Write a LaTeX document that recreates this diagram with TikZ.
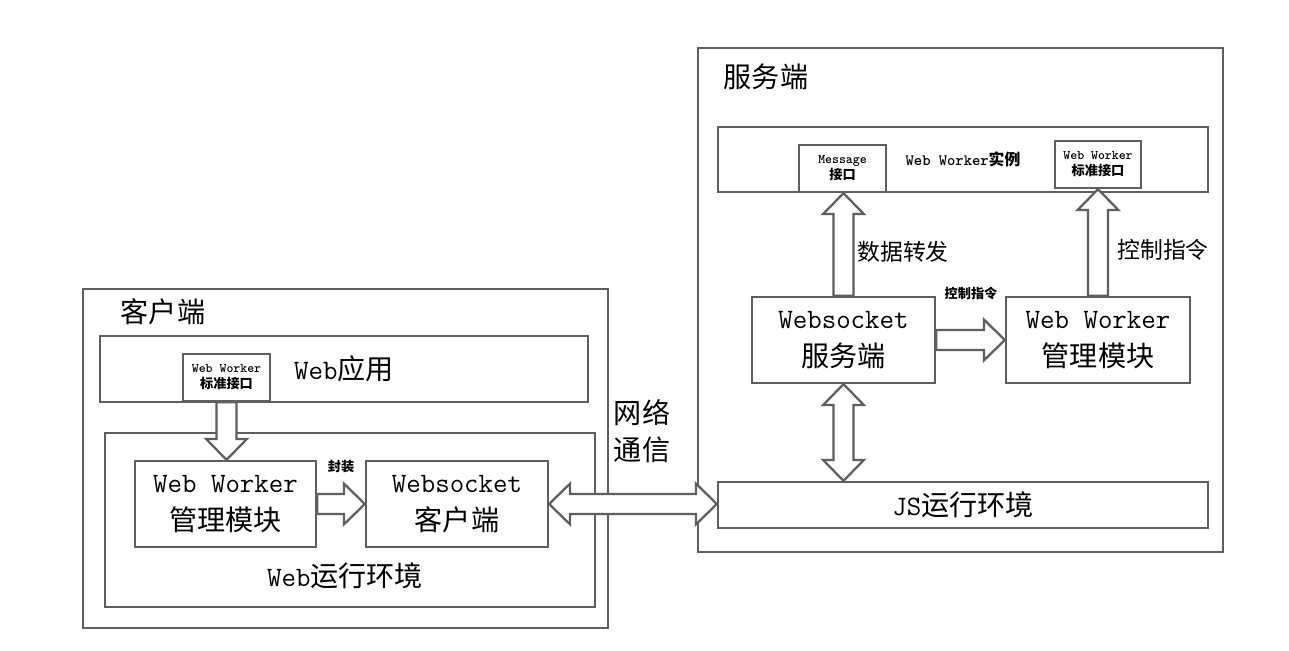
\documentclass[tikz,border=0pt]{standalone}
\usepackage{fontspec}
\newfontfamily\cjk{Noto Sans CJK SC}
\usetikzlibrary{positioning, calc, fit}
\definecolor{edgegray}{RGB}{95,95,95}

% hollow block arrow from #1 to #2
\newcommand{\fatarrow}[2]{%
  \coordinate (fa-b) at ($(#2)!11.9pt!(#1)$);
  \draw[arr] ($(#1)!5.7pt!90:(#2)$) -- ($(fa-b)!5.7pt!90:(#2)$) -- ($(fa-b)!11.6pt!90:(#2)$) -- (#2)
    -- ($(fa-b)!11.6pt!-90:(#2)$) -- ($(fa-b)!5.7pt!-90:(#2)$) -- ($(#1)!5.7pt!-90:(#2)$) -- cycle;}
% hollow block arrow with two heads
\newcommand{\dfatarrow}[2]{%
  \coordinate (fa-a) at ($(#1)!11.9pt!(#2)$);
  \coordinate (fa-b) at ($(#2)!11.9pt!(#1)$);
  \draw[arr] (#1) -- ($(fa-a)!11.6pt!90:(#2)$) -- ($(fa-a)!5.7pt!90:(#2)$) -- ($(fa-b)!5.7pt!90:(#2)$)
    -- ($(fa-b)!11.6pt!90:(#2)$) -- (#2) -- ($(fa-b)!11.6pt!-90:(#2)$) -- ($(fa-b)!5.7pt!-90:(#2)$)
    -- ($(fa-a)!5.7pt!-90:(#2)$) -- ($(fa-a)!11.6pt!-90:(#2)$) -- cycle;}

\begin{document}
\begin{tikzpicture}[x=0.02cm, y=-0.02cm,
		box/.style={draw=edgegray, line width=1.3pt, fill=white, inner sep=0pt},
		big/.style={label={[inner sep=0pt, align=center, font=\ttfamily\fontsize{16}{22}\selectfont]center:#1}},
		small/.style={label={[inner sep=0pt, align=center, font=\ttfamily\fontsize{7.5}{9}\selectfont\bfseries]center:#1}},
		lbl/.style={inner sep=0pt, align=center, font=\ttfamily\fontsize{16}{21}\selectfont},
		note/.style={inner sep=0pt, font=\fontsize{7.5}{9}\selectfont\bfseries},
		arr/.style={draw=edgegray, line width=1.3pt, fill=white, line join=miter}
		]
		\path[use as bounding box, fill=white] (0,0) rectangle (1289,651);
		% server side
		\node (srv) [box, fit={(698,48) (1223,552)}] {};
		\node (srvlbl) [lbl] at (766,77) {{\cjk 服务端}};
		\node (inst) [box, fit={(718,127) (1208,192)},
			label={[inner sep=0pt, font=\ttfamily\fontsize{9}{11}\selectfont\bfseries]center:Web Worker{\cjk 实例}}] {};
		\node (msg) [box, small={Message\\{\cjk 接口}}, fit={(799,145) (886,192)}] {};
		\node (siface) [box, small={Web Worker\\{\cjk 标准接口}}, fit={(1055,141) (1141,188)}] {};
		\node (wss) [box, big={Websocket\\{\cjk 服务端}}, fit={(752,297) (935,383)}] {};
		\node (smgr) [box, big={Web Worker\\{\cjk 管理模块}}, fit={(1006,297) (1190,383)}] {};
		\node (js) [box, big={JS{\cjk 运行环境}}, fit={(718,482) (1208,528)}] {};
		% client side
		\node (cli) [box, fit={(83,289) (608,628)}] {};
		\node (clilbl) [lbl] at (163,312) {{\cjk 客户端}};
		\node (app) [box, big={Web{\cjk 应用}}, fit={(100,336) (588,402)}] {};
		\node (ciface) [box, small={Web Worker\\{\cjk 标准接口}}, fit={(183,354) (270,401)}] {};
		\node (env) [box, fit={(105,433) (595,607)}] {};
		\node (envlbl) [lbl] at (345,576) {Web{\cjk 运行环境}};
		\node (cmgr) [box, big={Web Worker\\{\cjk 管理模块}}, fit={(135,461) (316,547)}] {};
		\node (wsc) [box, big={Websocket\\{\cjk 客户端}}, fit={(366,461) (548,547)}] {};
		% labels
		\node (net) [lbl] at (642,431) {{\cjk 网络}\\{\cjk 通信}};
		\node (wrap) [note] at (341,467) {{\cjk 封装}};
		\node (ctl) [note] at (971,293) {{\cjk 控制指令}};
		\node (fwd) [lbl, font=\fontsize{13}{15}\selectfont] at (903,252) {{\cjk 数据转发}};
		\node (ctl2) [lbl, font=\fontsize{13}{15}\selectfont] at (1163,250) {{\cjk 控制指令}};
		% arrows
		\coordinate (msgin) at (wss.north |- msg.south);
		\coordinate (sifin) at (smgr.north |- siface.south);
		\coordinate (jsin) at (wss.south |- js.north);
		\coordinate (cmgrin) at (ciface.south |- cmgr.north);
		\coordinate (jsl) at (wsc.east -| js.west);
		\fatarrow{wss.north}{msgin}
		\fatarrow{smgr.north}{sifin}
		\fatarrow{wss.east}{smgr.west}
		\dfatarrow{wss.south}{jsin}
		\fatarrow{ciface.south}{cmgrin}
		\fatarrow{cmgr.east}{wsc.west}
		\dfatarrow{wsc.east}{jsl}
	\end{tikzpicture}
\end{document}
